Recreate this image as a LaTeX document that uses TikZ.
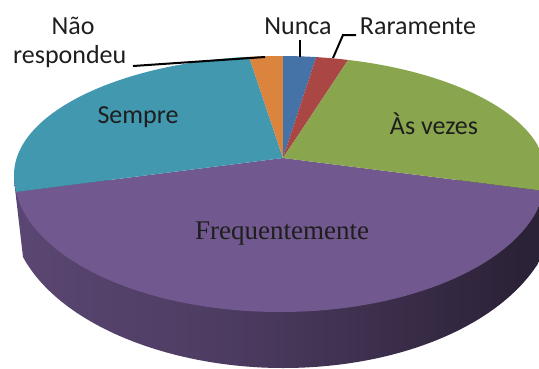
\documentclass[tikz,border=0pt]{standalone}
\usepackage{fontspec}
\setmainfont{Carlito}
\newfontfamily\serifface{Liberation Serif}
\definecolor{cOrange}{HTML}{DB843D}
\definecolor{cBlue}{HTML}{4572A7}
\definecolor{cRed}{HTML}{AA4643}
\definecolor{cGreen}{HTML}{89A54E}
\definecolor{cPurple}{HTML}{71588F}
\definecolor{cTeal}{HTML}{4198AF}
\definecolor{cText}{HTML}{1E1E1E}
\pgfdeclarehorizontalshading{sideshade}{100bp}{
  color(0bp)=(cPurple!85!black);
  color(25bp)=(cPurple!80!black);
  color(45bp)=(cPurple!68!black);
  color(62bp)=(cPurple!50!black);
  color(72bp)=(cPurple!39!black);
  color(100bp)=(cPurple!37!black)}
\tikzset{
  lbl/.style={font=\fontsize{26}{30}\selectfont,text=cText,inner sep=0pt},
  leader/.style={draw=black,line width=2pt},
}
\begin{document}
\begin{tikzpicture}[x=1pt,y=-1pt]
\useasboundingbox (0,0) rectangle (539,368);
% side wall
\begin{scope}
\clip (0,0) rectangle (539,368);
\path[shading=sideshade]
  (14,180) -- (23,257) .. controls (60,325) and (170,368) .. (283,368)
  .. controls (400,368) and (500,325) .. (539,262) -- (548,180) -- cycle;
\end{scope}
% top face
\begin{scope}
\clip (0,0) rectangle (539,368);
\clip[y=-1pt] (14,175) arc[x radius=266,y radius=119,start angle=-180,end angle=0] arc[x radius=266,y radius=137,start angle=0,end angle=180] -- cycle;
\coordinate (apex) at (283,158);
\fill[cPurple] (apex) -- (-40,199) -- (-40,400) -- (600,400) -- (600,198) -- cycle;
\fill[cTeal] (apex) -- (-40,199) -- (-40,0) -- (230,0) -- cycle;
\fill[cOrange] (apex) -- (230,0) -- (283,0) -- cycle;
\fill[cBlue] (apex) -- (283,0) -- (335,0) -- cycle;
\fill[cRed] (apex) -- (335,0) -- (388,0) -- cycle;
\fill[cGreen] (apex) -- (388,0) -- (600,0) -- (600,198) -- cycle;
\end{scope}
% labels
\node[lbl] (nunca) at (298,26) {Nunca};
\node[lbl] (raramente) at (418,26) {Raramente};
\node[lbl] (nao) at (73,26) {Não};
\node[lbl,anchor=west] (resp) at (13,57) {respondeu};
\node[lbl] (sempre) at (138,117) {Sempre};
\node[lbl] (asvezes) at (434,124) {Às vezes};
\node[lbl,font=\serifface\fontsize{27}{30}\selectfont] (freq) at (282,234) {Frequentemente};
% leaders
\coordinate (nuncaEnd) at (300,57);
\coordinate (raraEnd) at (333,58);
\coordinate (respEnd) at (265,57);
\draw[leader] (300,40) -- (nuncaEnd);
\draw[leader] (356,35) -- (343,35) -- (raraEnd);
\draw[leader] (133,66) -- (respEnd);
\end{tikzpicture}
\end{document}
